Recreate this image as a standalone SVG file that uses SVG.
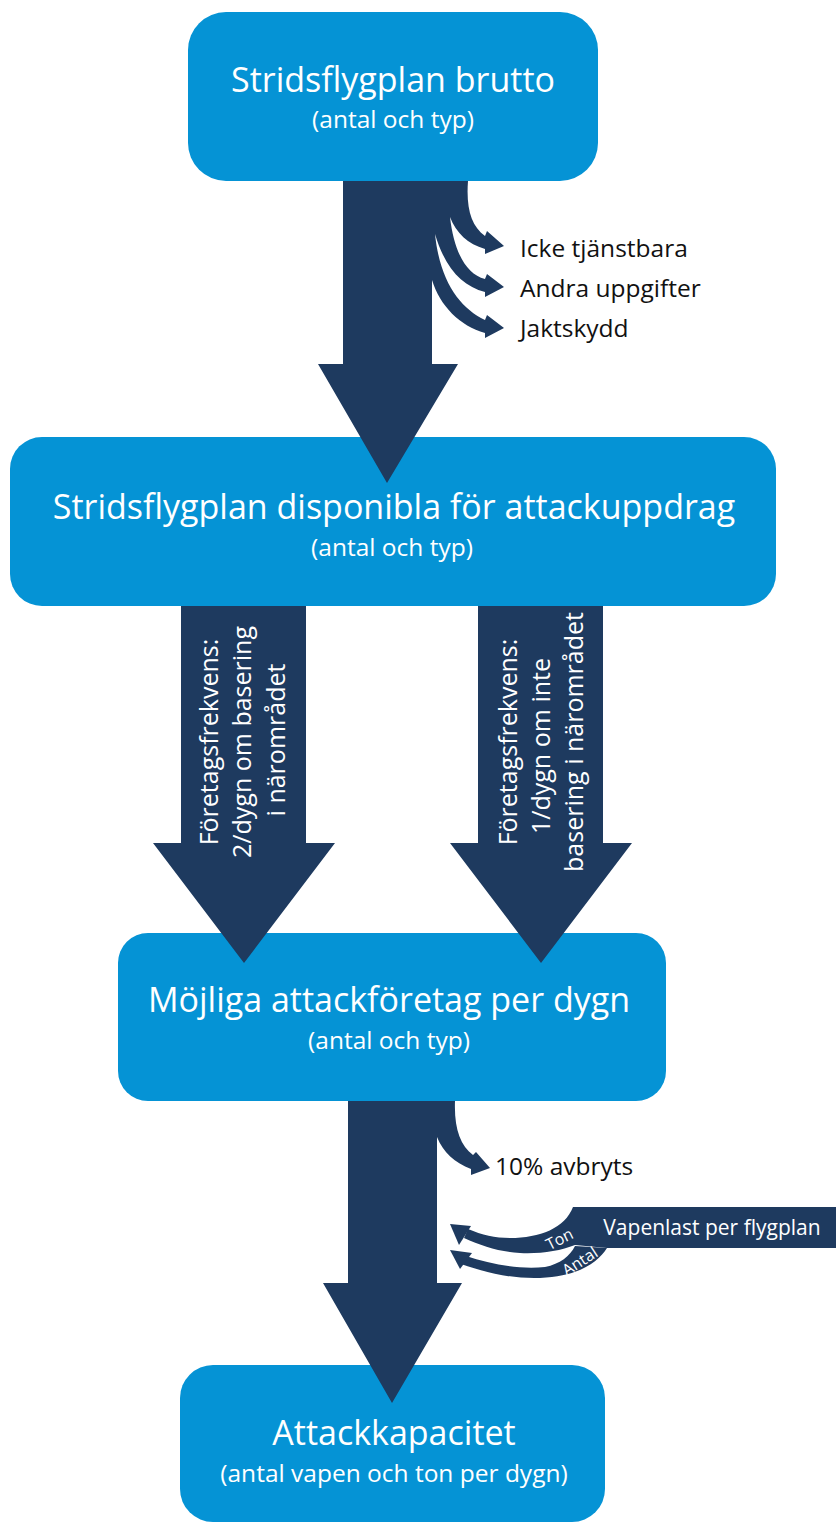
<svg xmlns="http://www.w3.org/2000/svg" width="836" height="1526" viewBox="0 0 836 1526">
<style>
.box{fill:#0593d5}
.arr{fill:#1e3a5f}
.t{font-family:"Open Sans","Noto Sans","DejaVu Sans",sans-serif;fill:#ffffff;text-anchor:middle}
.title{font-size:34px}
.sub{font-size:24.5px}
.rot{font-size:25px}
.lbl{font-family:"Open Sans","Noto Sans","DejaVu Sans",sans-serif;font-size:24.5px;fill:#111111}
.small{font-size:16px}
</style>
<rect width="836" height="1526" fill="#ffffff"/>
<g id="node-brutto">
<rect class="box" x="188" y="12" width="410" height="169" rx="38"/>
<text class="t title" x="393" y="92">Stridsflygplan brutto</text>
<text class="t sub" x="393" y="128">(antal och typ)</text>
</g>
<g id="node-disponibla">
<rect class="box" x="10" y="437" width="766" height="169" rx="32"/>
<text class="t title" x="394" y="519">Stridsflygplan disponibla för attackuppdrag</text>
<text class="t sub" x="392" y="556">(antal och typ)</text>
</g>
<g id="node-mojliga">
<rect class="box" x="118" y="933" width="548" height="168" rx="30"/>
<text class="t title" x="389" y="1012">Möjliga attackföretag per dygn</text>
<text class="t sub" x="389" y="1049">(antal och typ)</text>
</g>
<g id="node-attackkapacitet">
<rect class="box" x="180" y="1365" width="425" height="157" rx="33"/>
<text class="t title" x="394" y="1445">Attackkapacitet</text>
<text class="t sub" x="394" y="1482">(antal vapen och ton per dygn)</text>
</g>
<g id="connectors">
<path class="arr" d="M343,181 H468 C466,208 471,226 485,236 L487,231 L504,246 L485,254 L485,249 C468,244 456,233 450,217 C454,252 466,274 485,279 L487,274 L504,287 L485,297 L485,292 C462,286 445,268 435,234 C440,282 460,308 485,320 L487,315 L504,328 L485,338 L485,333 C460,326 440,306 432,280 V364 H458 L387,483 L318,364 H343 Z"/>
<polygon class="arr" points="181,606 306,606 306,843 335,843 244,963 153,843 181,843"/>
<polygon class="arr" points="478,606 603,606 603,843 632,843 541,963 450,843 478,843"/>
<path class="arr" d="M348,1101 H455 C454,1128 460,1145 473,1155 L476,1152 L490,1168 L471,1175 L471,1169 C455,1163 443,1152 437,1137 V1283 H462 L392,1403 L323,1283 H348 Z"/>
<g id="vapenlast">
<path class="arr" d="M573,1207 H836 V1248 H607 L575,1245 C560,1251 540,1254 520,1253 C500,1252 482,1246 464,1238 L468,1229 C482,1235 495,1238 510,1238 C540,1238 565,1228 573,1207 Z"/>
<polygon class="arr" points="450,1224 471,1226 459,1245"/>
<path class="arr" d="M466,1256 C490,1264 520,1270 545,1267 C560,1264 570,1256 575,1246 L607,1248 C598,1262 580,1276 540,1278 C510,1279 485,1272 461,1264 Z"/>
<polygon class="arr" points="450,1250 472,1253 460,1269"/>
<text class="t small" x="562" y="1244" transform="rotate(-27 562 1244)">Ton</text>
<text class="t small" x="583" y="1266" transform="rotate(-33 583 1266)">Antal</text>
<text class="t" x="712" y="1235" style="font-size:21px">Vapenlast per flygplan</text>
</g>
<text class="t rot" x="218" y="742" transform="rotate(-90 218 742)">Företagsfrekvens:</text>
<text class="t rot" x="251" y="742" transform="rotate(-90 251 742)">2/dygn om basering</text>
<text class="t rot" x="285" y="740" transform="rotate(-90 285 740)">i närområdet</text>
<text class="t rot" x="517" y="742" transform="rotate(-90 517 742)">Företagsfrekvens:</text>
<text class="t rot" x="550" y="746" transform="rotate(-90 550 746)">1/dygn om inte</text>
<text class="t rot" x="583" y="742" transform="rotate(-90 583 742)">basering i närområdet</text>
<text class="lbl" x="520" y="257">Icke tjänstbara</text>
<text class="lbl" x="520" y="297">Andra uppgifter</text>
<text class="lbl" x="520" y="337">Jaktskydd</text>
<text class="lbl" x="495" y="1175">10% avbryts</text>
</g>
</svg>
